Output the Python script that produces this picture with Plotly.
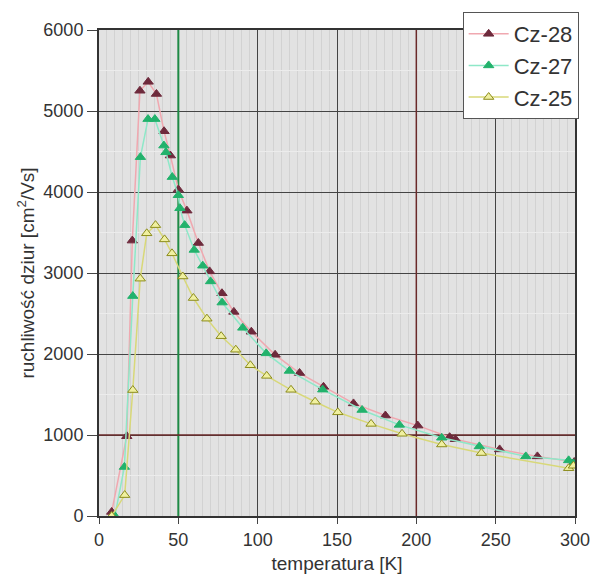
import plotly.graph_objects as go

# Data
t28 = [8, 17.5, 21, 25.8, 31, 36.2, 41, 45, 50, 55.4, 62.6, 69.7, 77.5, 85, 96, 111, 126.4, 141.5, 160.4, 180.5, 200.9, 221, 224.6, 252.5, 276.3, 299.5]
m28 = [50, 985, 3400, 5250, 5360, 5210, 4750, 4450, 4030, 3770, 3370, 3020, 2750, 2520, 2275, 1990, 1765, 1595, 1390, 1240, 1116, 973, 948, 822, 736, 666]

t27 = [10, 16, 21.3, 26.1, 30.9, 35.2, 40.9, 42.2, 46.2, 50, 51, 54, 60, 65.4, 70.3, 77.6, 90.6, 105.4, 120, 141, 165.8, 189.3, 216, 239.7, 269, 296, 299]
m27 = [0, 605, 2715, 4430, 4900, 4900, 4573, 4490, 4184, 3960, 3800, 3591, 3285, 3090, 2896, 2635, 2323, 2008, 1791, 1560, 1309, 1125, 966, 859, 736, 687, 650]

t25 = [8, 16.2, 21.3, 26, 30.1, 35.6, 41.3, 46, 52.8, 59.5, 68, 77, 86.2, 95.4, 105.7, 121, 136.2, 150.5, 171.5, 191, 216, 241, 296, 299]
m25 = [0, 258, 1555, 2930, 3490, 3591, 3415, 3243, 2957, 2691, 2436, 2220, 2053, 1861, 1730, 1558, 1411, 1280, 1137, 1015, 883, 777, 590, 620]

x_ticks = [0, 50, 100, 150, 200, 250, 300]
y_ticks = [0, 1000, 2000, 3000, 4000, 5000, 6000]

# gridlines that are coloured in the reference
green_grid_x = 50
red_grid_x = 200
red_grid_y = 1000

fig = go.Figure()

# coloured gridlines drawn as background traces (beneath the data)
fig.add_trace(go.Scatter(x=[green_grid_x, green_grid_x], y=[0, 6000], mode="lines",
                         line=dict(color="#1f8a45", width=2), showlegend=False, hoverinfo="skip"))
fig.add_trace(go.Scatter(x=[red_grid_x, red_grid_x], y=[0, 6000], mode="lines",
                         line=dict(color="#6a2a2a", width=1.5), showlegend=False, hoverinfo="skip"))
fig.add_trace(go.Scatter(x=[0, 300], y=[red_grid_y, red_grid_y], mode="lines",
                         line=dict(color="#6a2a2a", width=1.5), showlegend=False, hoverinfo="skip"))

series = [
    ("Cz-28", t28, m28, "#f0a8b0", "#6e2a3c", "#6e2a3c"),
    ("Cz-27", t27, m27, "#8ee8c8", "#22b26c", "#22b26c"),
    ("Cz-25", t25, m25, "#d8d878", "#f0f0a0", "#8c8c1c"),
]
for name, xs, ys, lc, fc, oc in series:
    fig.add_trace(go.Scatter(
        x=xs, y=ys, name=name, mode="lines+markers",
        legendgroup=name,
        line=dict(color=lc, width=1.5),
        marker=dict(symbol="triangle-up", size=9, color=fc, line=dict(color=oc, width=1)),
    ))

fig.update_xaxes(
    range=[0, 300], tickvals=x_ticks, ticktext=[str(v) for v in x_ticks],
    showgrid=True, gridcolor="#444444", gridwidth=1.3,
    minor=dict(dtick=5, showgrid=True, gridcolor="#d2d2d2", gridwidth=1),
    showline=True, linecolor="#333333", linewidth=2, mirror=True,
    ticks="outside", ticklen=6, tickcolor="#444444",
    zeroline=False, automargin=False,
    title=dict(text="temperatura [K]", font=dict(size=19, color="#333333"), standoff=8),
    tickfont=dict(size=18, color="#333333"),
)
fig.update_yaxes(
    range=[0, 6000], tickvals=y_ticks, ticktext=[str(v) for v in y_ticks],
    showgrid=True, gridcolor="#444444", gridwidth=1.3,
    minor=dict(dtick=500, showgrid=True, gridcolor="#ececec", gridwidth=1),
    showline=True, linecolor="#333333", linewidth=2, mirror=True,
    ticks="outside", ticklen=10, tickcolor="#444444",
    zeroline=False, automargin=False,
    title=dict(text="ruchliwość dziur [cm<sup>2</sup>/Vs]", font=dict(size=19, color="#333333"), standoff=4),
    tickfont=dict(size=18, color="#333333"),
)

fig.update_layout(
    width=595, height=581,
    margin=dict(l=99, r=20, t=27, b=65),
    paper_bgcolor="white",
    plot_bgcolor="#e2e2e2",
    font=dict(family="Liberation Sans, Arial, sans-serif", color="#333333"),
    legend=dict(
        x=0.764, y=1.037, xanchor="left", yanchor="top",
        bgcolor="white", bordercolor="#555555", borderwidth=1,
        font=dict(size=22, color="#333333"),
        tracegroupgap=0,
        itemwidth=40,
    ),
    showlegend=True,
)

fig.write_html("out.html")
